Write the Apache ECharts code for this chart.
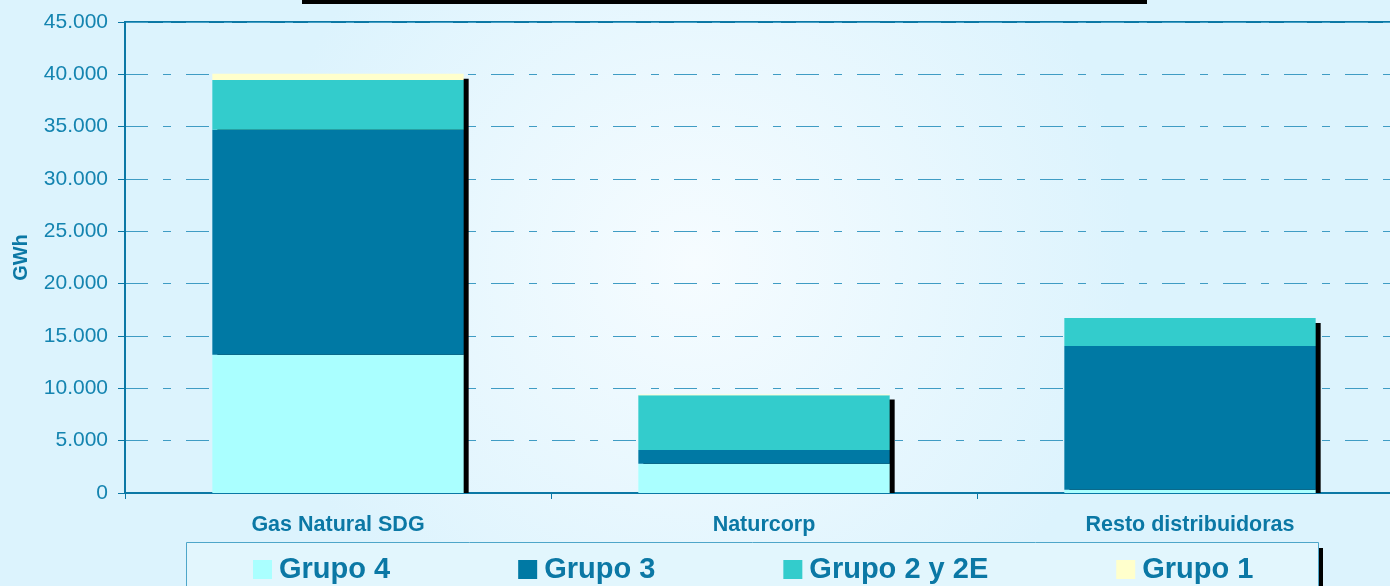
<!DOCTYPE html>
<html>
<head>
<meta charset="utf-8">
<script src="https://cdn.jsdelivr.net/npm/echarts@6/dist/echarts.min.js"></script>
<style>
  html, body { margin: 0; padding: 0; background: #e6f6fd; }
  #main { width: 1390px; height: 586px; }
</style>
</head>
<body>
<div id="main"></div>
<script>
var categories = ['Gas Natural SDG', 'Naturcorp', 'Resto distribuidoras'];
var grupo4 = [13200, 2800, 300];
var grupo3 = [21500, 1300, 13750];
var grupo2 = [4750, 5250, 2680];
var grupo1 = [600, 50, 0];
var seriesNames = ['Grupo 4', 'Grupo 3', 'Grupo 2 y 2E', 'Grupo 1'];
var seriesColors = ['#aaffff', '#0079a4', '#33cccc', '#ffffcc'];
var yTicks = [0, 5000, 10000, 15000, 20000, 25000, 30000, 35000, 40000, 45000];

var textColor = '#0b78a5';
var BAR_RATIO = 0.59;
var chart = echarts.init(document.getElementById('main'), null, { renderer: 'canvas' });

// total of each column, only used for the black shadow behind the stack
var totals = categories.map(function (c, i) {
  return grupo4[i] + grupo3[i] + grupo2[i] + grupo1[i];
});

function fmt(v) {
  return String(v).replace(/\B(?=(\d{3})+(?!\d))/g, '.');
}

var values = [grupo4, grupo3, grupo2, grupo1];
var series = [{
  name: 'sombra',
  type: 'custom',
  silent: true,
  z: 1,
  data: totals.map(function (t, i) { return [i, t]; }),
  renderItem: function (params, api) {
    var base = api.coord([api.value(0), 0]);
    var top = api.coord([api.value(0), api.value(1)]);
    var w = api.size([1, 0])[0] * BAR_RATIO;
    return {
      type: 'rect',
      shape: { x: base[0] - w / 2 + 5, y: top[1] + 5, width: w, height: base[1] - top[1] - 5 },
      style: { fill: '#000' }
    };
  }
}];
values.forEach(function (arr, k) {
  series.push({
    name: seriesNames[k],
    type: 'bar',
    stack: 'total',
    data: arr,
    barWidth: (BAR_RATIO * 100) + '%',
    z: 3,
    itemStyle: { color: seriesColors[k] }
  });
});

chart.setOption({
  backgroundColor: {
    type: 'radial', x: 0.5, y: 0.45, r: 0.75,
    colorStops: [
      { offset: 0, color: '#f6fcff' },
      { offset: 1, color: '#dcf3fd' }
    ]
  },
  animation: false,
  graphic: [{
    type: 'rect',
    left: 302, top: 0, z: 0,
    shape: { width: 845, height: 4 },
    style: { fill: '#000' }
  }, {
    type: 'rect',
    left: 191, top: 548, z: 0,
    shape: { width: 1132, height: 60 },
    style: { fill: '#000' }
  }, {
    type: 'rect',
    left: 186, top: 542, z: 1,
    shape: { width: 1132, height: 60 },
    style: { fill: '#e2f6fd', stroke: '#4ea6c9', lineWidth: 1 }
  }],
  grid: {
    left: 125, top: 22, width: 1278, bottom: 93,
    outerBoundsMode: 'none',
    containLabel: false,
    show: true,
    borderColor: '#0b78a5',
    borderWidth: 2,
    backgroundColor: 'transparent'
  },
  legend: {
    data: seriesNames,
    left: 253,
    top: 555,
    padding: 0,
    itemGap: 128,
    itemWidth: 19,
    itemHeight: 19,
    icon: 'rect',
    z: 5,
    textStyle: {
      color: textColor,
      fontFamily: 'Liberation Sans, Arial, sans-serif',
      fontWeight: 'bold',
      fontSize: 29,
      padding: [0, 0, 0, 2]
    }
  },
  xAxis: {
    type: 'category',
    data: categories,
    axisLine: { lineStyle: { color: '#0b78a5', width: 2 } },
    axisTick: { show: true, length: 6, lineStyle: { color: '#0b78a5' } },
    axisLabel: {
      color: textColor,
      fontFamily: 'Liberation Sans, Arial, sans-serif',
      fontWeight: 'bold',
      fontSize: 21.5,
      margin: 21
    },
    splitLine: { show: false }
  },
  yAxis: {
    type: 'value',
    min: yTicks[0],
    max: yTicks[yTicks.length - 1],
    interval: 5000,
    name: 'GWh',
    nameLocation: 'middle',
    nameGap: 94,
    nameRotate: 90,
    nameTextStyle: {
      color: textColor,
      fontFamily: 'Liberation Sans, Arial, sans-serif',
      fontWeight: 'bold',
      fontSize: 20
    },
    axisLine: { show: true, lineStyle: { color: '#0b78a5', width: 2 } },
    axisTick: { show: true, length: 7, lineStyle: { color: '#0b78a5' } },
    axisLabel: {
      color: '#1484b0',
      fontFamily: 'Liberation Sans, Arial, sans-serif',
      fontSize: 21,
      margin: 17,
      formatter: function (v) { return fmt(v); }
    },
    splitLine: {
      show: true,
      lineStyle: { color: '#3f9cc4', width: 1, type: [23, 15, 8, 15], dashOffset: 0 }
    }
  },
  series: series
});
</script>
</body>
</html>
